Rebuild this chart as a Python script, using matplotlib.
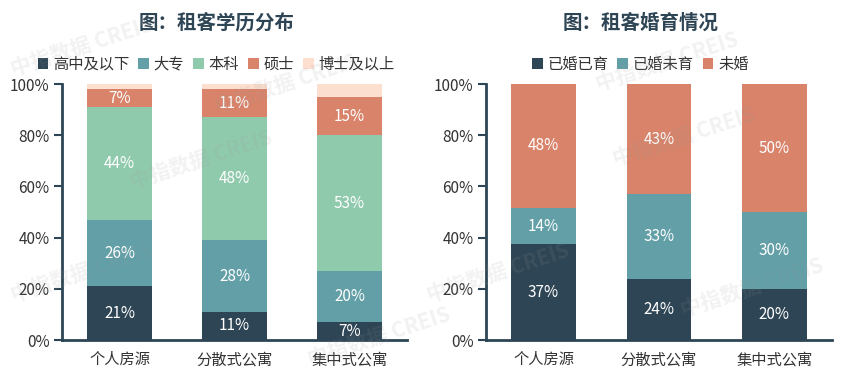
import numpy as np
import matplotlib
matplotlib.use("Agg")
import matplotlib.pyplot as plt

plt.rcParams['font.family'] = ['Noto Sans CJK SC', 'DejaVu Sans']

# data
categories = ["个人房源", "分散式公寓", "集中式公寓"]

edu_labels = ["高中及以下", "大专", "本科", "硕士", "博士及以上"]
edu_high = [21, 11, 7]
edu_college = [26, 28, 20]
edu_bachelor = [44, 48, 53]
edu_master = [7, 11, 15]
edu_phd = [2, 2, 5]

mar_labels = ["已婚已育", "已婚未育", "未婚"]
mar_kids = [37.4, 24, 20]
mar_nokids = [14.3, 33, 30]
mar_single = [48.3, 43, 50]

dark = "#2e4555"
teal = "#629fa7"
mint = "#90caad"
terra = "#d8836a"
peach = "#fcdfcf"
axis_col = "#2e4555"
text_col = "#333333"


def stacked(ax, series, names, colors, title, show_label, cx):
    x = np.arange(len(categories))
    bottom = np.zeros(len(categories))
    for vals, name, col, lab in zip(series, names, colors, show_label):
        vals = np.array(vals, dtype=float)
        ax.bar(x, vals, 0.56, bottom=bottom, color=col, label=name, zorder=2)
        if lab:
            for xi, b, v in zip(x, bottom, vals):
                ax.text(xi, b + v / 2, "%.0f%%" % v, ha='center', va='center',
                        color='white', fontsize=11, zorder=3)
        bottom += vals
    ax.set_xlim(-0.5, 2.5)
    ax.set_ylim(0, 100)
    ax.set_xticks(x)
    ax.set_xticklabels(categories, fontsize=11, color=text_col)
    ax.tick_params(axis='x', length=0, pad=8)
    ax.set_yticks(np.arange(0, 101, 20))
    ax.set_yticklabels(["%d%%" % v for v in range(0, 101, 20)], fontsize=11, color=text_col)
    ax.tick_params(axis='y', length=6, width=1.5, color=axis_col, pad=3)
    for s in ['top', 'right']:
        ax.spines[s].set_visible(False)
    for s in ['left', 'bottom']:
        ax.spines[s].set_color(axis_col)
        ax.spines[s].set_linewidth(2)
    h, l = ax.get_legend_handles_labels()
    fig.legend(h, l, loc='center', bbox_to_anchor=(cx, 0.83), ncol=len(names), frameon=False,
               fontsize=11, handlelength=0.7, handleheight=0.7, handletextpad=0.3,
               columnspacing=0.6, labelcolor=text_col)
    fig.text(cx, 0.94, title, ha='center', va='center', fontsize=14,
             fontweight='bold', color=axis_col)


fig = plt.figure(figsize=(8.48, 3.77), dpi=100)
ax1 = fig.add_axes([0.0731, 0.098, 0.407, 0.679])
ax2 = fig.add_axes([0.573, 0.098, 0.408, 0.679])

stacked(ax1, [edu_high, edu_college, edu_bachelor, edu_master, edu_phd], edu_labels,
        [dark, teal, mint, terra, peach], "图：租客学历分布", [True, True, True, True, False], 0.255)
stacked(ax2, [mar_kids, mar_nokids, mar_single], mar_labels,
        [dark, teal, terra], "图：租客婚育情况", [True, True, True], 0.755)

# watermarks
for (wx, wy) in [(0.01, 0.8), (0.25, 0.7), (0.01, 0.2), (0.15, 0.5), (0.36, 0.03),
                 (0.72, 0.56), (0.5, 0.2), (0.8, 0.16), (0.7, 0.76)]:
    fig.text(wx, wy, "中指数据 CREIS", fontsize=15, color='#999999', alpha=0.13,
             rotation=18, fontweight='bold', zorder=10)

fig.savefig("out.png", dpi=100)
